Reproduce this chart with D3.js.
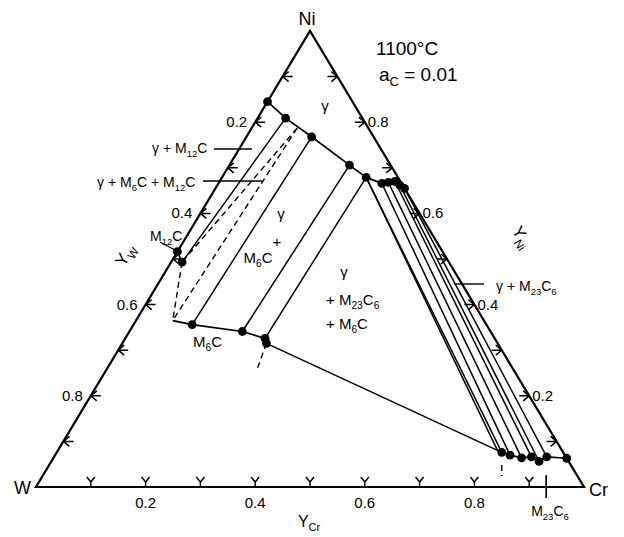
<!DOCTYPE html>
<html>
<head>
<meta charset="utf-8">
<script src="https://cdn.jsdelivr.net/npm/d3@7"></script>
<style>
  html, body { margin: 0; padding: 0; background: #fff; }
  svg { display: block; font-family: "Liberation Sans", Arial, sans-serif; }
</style>
</head>
<body>
<div id="chart"></div>
<script>
// site fractions as [yCr, yNi]; yW = 1 - yCr - yNi
const gammaEdge = [[0.000, 0.845], [0.051, 0.809], [0.119, 0.768], [0.219, 0.706], [0.263, 0.679]];
const gammaCrSide = [[0.298, 0.666], [0.309, 0.668], [0.320, 0.670], [0.333, 0.662], [0.345, 0.655]];
const m12cPts = [[0.000, 0.516], [0.020, 0.493]];
const m6cCorner = [0.067, 0.365];
const m6cPts = [[0.107, 0.356], [0.206, 0.341], [0.255, 0.326], [0.263, 0.315]];
const m23c6Pts = [[0.812, 0.076], [0.830, 0.070], [0.854, 0.064], [0.871, 0.066], [0.890, 0.056], [0.899, 0.066], [0.937, 0.063]];
const m23c6Near = [0.804, 0.078];
const gammaVertex = [0.083, 0.787];
const m6cTail = [0.274, 0.260];
const m23c6Tail = [[0.826, 0.048], [0.838, 0.024]];
const m23c6Mark = 0.931;

const tickValues = [0.1, 0.2, 0.3, 0.4, 0.5, 0.6, 0.7, 0.8, 0.9];
const labelValues = [0.2, 0.4, 0.6, 0.8];

const width = 624;
const height = 537;

const x = d3.scaleLinear().domain([0, 1]).range([36, 584]);
const y = d3.scaleLinear().domain([0, 1]).range([487, 31]);
const tern = ([cr, ni]) => [x(cr + ni / 2), y(ni)];

const svg = d3.select('#chart').append('svg')
  .attr('width', width)
  .attr('height', height)
  .attr('viewBox', `0 0 ${width} ${height}`);

const line = d3.line().x(d => tern(d)[0]).y(d => tern(d)[1]);

// triangle
svg.append('path')
  .attr('d', line([[0, 0], [1, 0], [0, 1]]) + 'Z')
  .attr('fill', 'none').attr('stroke', '#000').attr('stroke-width', 2.2)
  .attr('stroke-linejoin', 'miter');

// ticks
const ticks = svg.append('g').attr('stroke', '#000').attr('stroke-width', 1.5).attr('fill', 'none');
tickValues.forEach(v => {
  let [bx, by] = tern([v, 0]);
  ticks.append('path').attr('d', `M${bx},${by}v-5l-4,-5M${bx},${by - 5}l4,-5`);
  let [lx, ly] = tern([0, 1 - v]);
  ticks.append('path').attr('d', `M${lx},${ly}h10M${lx},${ly}l6,-5M${lx},${ly}l6,5`);
  let [rx, ry] = tern([1 - v, v]);
  ticks.append('path').attr('d', `M${rx},${ry}h-10M${rx},${ry}l-6,-5M${rx},${ry}l-6,5`);
});

const labels = svg.append('g').attr('font-size', 15).attr('fill', '#000');
labelValues.forEach(v => {
  let [bx, by] = tern([v, 0]);
  labels.append('text').attr('x', bx).attr('y', by + 21).attr('text-anchor', 'middle').text(v.toFixed(1));
  let [lx, ly] = tern([0, 1 - v]);
  labels.append('text').attr('x', lx - 8).attr('y', ly + 5).attr('text-anchor', 'end').text(v.toFixed(1));
  let [rx, ry] = tern([1 - v, v]);
  labels.append('text').attr('x', rx + 3).attr('y', ry + 5).attr('text-anchor', 'start').text(v.toFixed(1));
});

// phase boundaries
const solid = svg.append('g').attr('fill', 'none').attr('stroke', '#000').attr('stroke-width', 1.7);
solid.append('path').attr('d', line(gammaEdge.concat(gammaCrSide)));
solid.append('path').attr('d', line(m12cPts));
solid.append('path').attr('d', line([m6cCorner].concat(m6cPts)));
solid.append('path').attr('d', line(m23c6Pts));

// tie lines
const ties = [
  [gammaEdge[1], m12cPts[1]],
  [gammaEdge[2], m6cPts[0]],
  [gammaEdge[3], m6cPts[1]],
  [gammaEdge[4], m6cPts[2]],
  [gammaEdge[4], m23c6Pts[0]],
  [gammaEdge[4], m23c6Near],
  [m6cPts[3], m23c6Pts[0]],
  ...gammaCrSide.map((g, i) => [g, m23c6Pts[i + 1]]),
];
solid.selectAll('.tie').data(ties).join('path').attr('class', 'tie')
  .attr('stroke-width', 1.5)
  .attr('d', d => line(d));

const dashed = svg.append('g').attr('fill', 'none').attr('stroke', '#000')
  .attr('stroke-width', 1.4).attr('stroke-dasharray', '6,4');
[[gammaVertex, m12cPts[1]], [gammaVertex, m6cCorner], [m12cPts[1], m6cCorner], [m6cPts[3], m6cTail]]
  .forEach(seg => dashed.append('path').attr('d', line(seg)));
dashed.append('path').attr('d', line(m23c6Tail)).attr('stroke-dasharray', null);

// M23C6 marker on base
solid.append('path').attr('d', line([[m23c6Mark - 0.013, 0.026], [m23c6Mark + 0.012, -0.024]]));

// dots
const dots = [...gammaEdge, ...gammaCrSide, ...m12cPts, ...m6cPts, ...m23c6Pts];
svg.append('g').selectAll('circle').data(dots).join('circle')
  .attr('cx', d => tern(d)[0])
  .attr('cy', d => tern(d)[1])
  .attr('r', 4.4)
  .attr('fill', '#000');

// text
function label(px, py, parts, size, anchor = 'start', rotate = 0) {
  const t = svg.append('text')
    .attr('x', px).attr('y', py)
    .attr('font-size', size)
    .attr('text-anchor', anchor);
  if (rotate) t.attr('transform', `rotate(${rotate},${px},${py})`);
  let shift = 0;
  parts.forEach(p => {
    const isSub = typeof p !== 'string';
    const ts = t.append('tspan').text(isSub ? p.sub : p);
    if (isSub) {
      ts.attr('font-size', size * 0.68).attr('dy', size * 0.25 - shift);
      shift = size * 0.25;
    } else if (shift) {
      ts.attr('dy', -shift);
      shift = 0;
    }
  });
  return t;
}

label(307, 25, ['Ni'], 18, 'middle');
label(14, 494, ['W'], 18, 'start');
label(589, 496, ['Cr'], 18, 'start');
label(376, 55, ['1100°C'], 19, 'start');
label(379, 81, ['a', { sub: 'C' }, ' = 0.01'], 19, 'start');

label(309, 527, ['Y', { sub: 'Cr' }], 16, 'middle');
label(130, 258, ['Y', { sub: 'W' }], 17, 'middle', -59);
label(517, 240, ['Y', { sub: 'Ni' }], 17, 'middle', 59);

label(325, 111, ['γ'], 15, 'middle');
label(152, 153, ['γ + M', { sub: '12' }, 'C'], 14, 'start');
label(97, 187, ['γ + M', { sub: '6' }, 'C + M', { sub: '12' }, 'C'], 14, 'start');
label(150, 241, ['M', { sub: '12' }, 'C'], 14, 'start');
label(281, 219, ['γ'], 15, 'middle');
label(277, 247, ['+'], 15, 'middle');
label(258, 263, ['M', { sub: '6' }, 'C'], 15, 'middle');
label(344, 277, ['γ'], 15, 'middle');
label(326, 305, ['+ M', { sub: '23' }, 'C', { sub: '6' }], 15, 'start');
label(326, 329, ['+ M', { sub: '6' }, 'C'], 15, 'start');
label(193, 347, ['M', { sub: '6' }, 'C'], 15, 'start');
label(496, 291, ['γ + M', { sub: '23' }, 'C', { sub: '6' }], 14, 'start');
label(550, 516, ['M', { sub: '23' }, 'C', { sub: '6' }], 14, 'middle');

// leader lines
const leaders = svg.append('g').attr('stroke', '#000').attr('stroke-width', 1.4);
leaders.append('line').attr('x1', 214).attr('y1', 149).attr('x2', 252).attr('y2', 149);
leaders.append('line').attr('x1', 203).attr('y1', 181).attr('x2', 262).attr('y2', 181);
leaders.append('line').attr('x1', 160).attr('y1', 242).attr('x2', 175).attr('y2', 250);
leaders.append('line').attr('x1', 454).attr('y1', 284).attr('x2', 484).attr('y2', 284);
</script>
</body>
</html>
